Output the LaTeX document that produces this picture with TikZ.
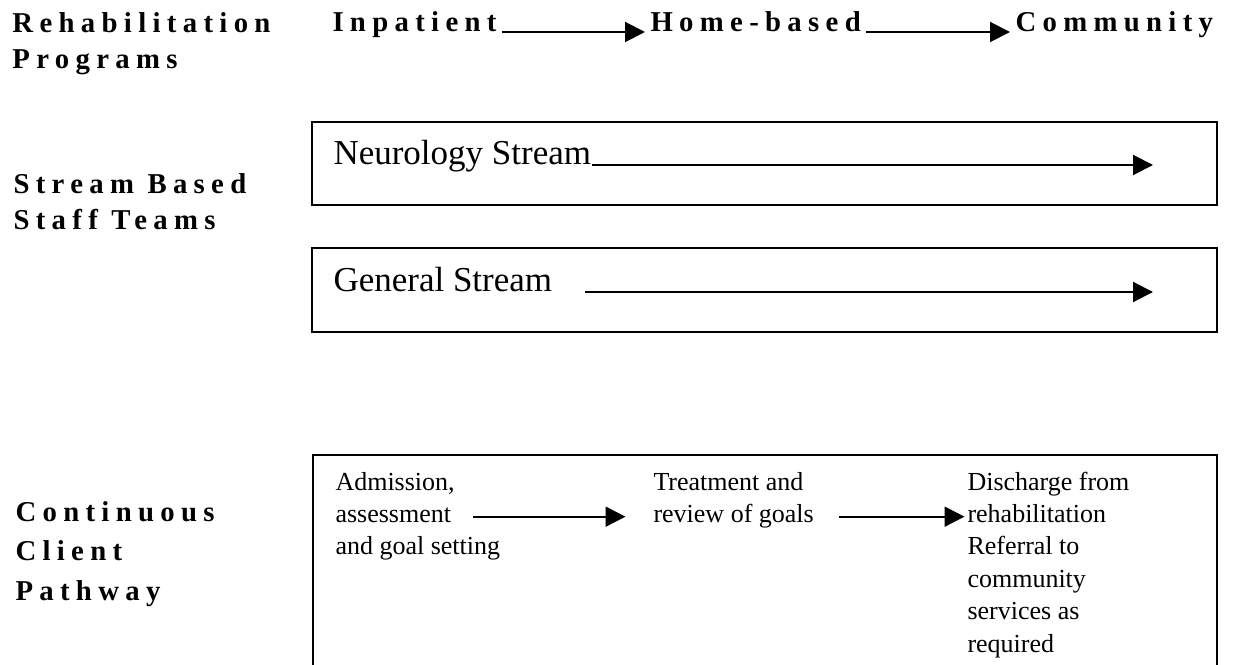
\documentclass[tikz,border=0pt]{standalone}
\usepackage{fontspec}
\setmainfont{Liberation Serif}
\newfontfamily\headfont[LetterSpace=22]{Liberation Serif}
\usetikzlibrary{arrows.meta}

\tikzset{
  heading/.style={font={\headfont\bfseries\fontsize{11.5pt}{14.4pt}\selectfont},inner sep=0pt,align=left},
  streamtext/.style={font=\fontsize{14pt}{16pt}\selectfont,inner sep=0pt,anchor=base west},
  pathtext/.style={font=\fontsize{10.4pt}{12.2pt}\selectfont,inner sep=1pt,anchor=base west},
  lane/.style={line width=1pt},
  flow/.style={line width=0.8pt,-{Triangle[length=8pt,width=8pt]}}
}

\begin{document}
\begin{tikzpicture}[x=0.4pt,y=-0.4pt]
  \useasboundingbox (0,0) rectangle (1245,665);

  % Left column: row headings
  \node[heading,anchor=north west] (rehab) at (12,12) {Rehabilitation\\Programs};
  \node[heading,anchor=north west] (staff) at (13,173) {Stream Based\\Staff Teams};
  \node[heading,anchor=north west,font={\headfont\bfseries\fontsize{11.5pt}{15.8pt}\selectfont}] (client) at (15,501) {Continuous\\Client\\Pathway};

  % Top row: programs
  \node[heading,anchor=base west] (inpat) at (332,32) {Inpatient};
  \node[heading,anchor=base west] (home) at (650,32) {Home-based};
  \node[heading,anchor=base west] (comm) at (1015,32) {Community};
  \draw[flow,shorten <=2pt,shorten >=2pt] (inpat.base east) -- (home.base west);
  \draw[flow,shorten <=2pt,shorten >=2pt] (home.base east) -- (comm.base west);

  % Staff team boxes
  \draw[lane] (312,122) rectangle (1217,205);
  \draw[lane] (312,248) rectangle (1217,332);
  \node[streamtext] (neuro) at (333,165) {Neurology Stream};
  \node[streamtext] (gen) at (333,292) {General Stream};
  \coordinate (neuroTip) at (1153,163);
  \coordinate (genTip) at (1153,290);
  \draw[flow] (neuro.base east) -- (neuro.base east -| neuroTip);
  \draw[flow,shorten <=13pt] (gen.base east) -- (gen.base east -| genTip);

  % Client pathway box, open at the foot
  \draw[lane] (313,665) -- (313,455) -- (1217,455) -- (1217,665);

  \node[pathtext] (adm1) at (332.5,490) {Admission,};
  \node[pathtext] (adm2) at (332.5,522.4) {assessment};
  \node[pathtext] (adm3) at (332.5,554.8) {and goal setting};

  \node[pathtext] (trt1) at (650.5,490) {Treatment and};
  \node[pathtext] (trt2) at (650.5,522.4) {review of goals};

  \node[pathtext] (dis1) at (964.5,490) {Discharge from};
  \node[pathtext] (dis2) at (964.5,522.4) {rehabilitation};
  \node[pathtext] (dis3) at (964.5,554.8) {Referral to};
  \node[pathtext] (dis4) at (964.5,587.2) {community};
  \node[pathtext] (dis5) at (964.5,619.6) {services as};
  \node[pathtext] (dis6) at (964.5,652) {required};

  % Pathway arrows
  \draw[flow,shorten <=7.5pt,shorten >=10pt] (adm2.mid east) -- (trt2.mid west);
  \draw[flow,shorten <=9pt] (trt2.mid east) -- (dis2.mid west);
\end{tikzpicture}
\end{document}
